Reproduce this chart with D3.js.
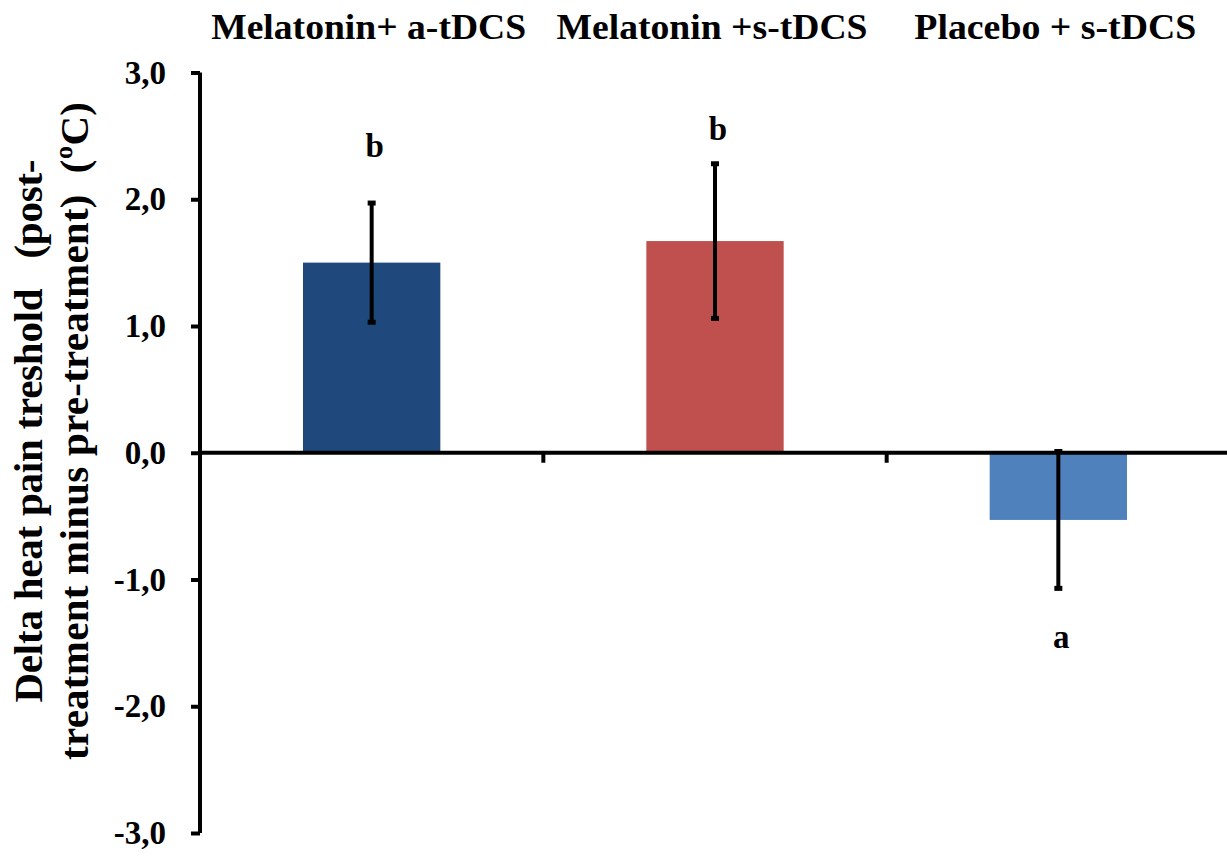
<!DOCTYPE html>
<html>
<head>
<meta charset="utf-8">
<script src="https://cdn.jsdelivr.net/npm/d3@7"></script>
<style>
  html, body { margin: 0; padding: 0; background: #fff; }
  svg { display: block; }
  text { font-family: "Liberation Serif", "Times New Roman", serif; font-weight: bold; fill: #000; }
</style>
</head>
<body>
<svg id="chart" width="1227" height="858"></svg>
<script>
// ---- data ----
const categories = ["Melatonin+ a-tDCS", "Melatonin +s-tDCS", "Placebo + s-tDCS"];
const means = [1.50, 1.67, -0.53];
const errors = [0.47, 0.61, 0.54];
const sigLetters = ["b", "b", "a"];
const sigLetterValues = [2.33, 2.47, -1.54];
const barColors = ["#1F497D", "#C0504D", "#4F81BD"];
const yTicks = [3, 2, 1, 0, -1, -2, -3];
const yTickLabels = ["3,0", "2,0", "1,0", "0,0", "-1,0", "-2,0", "-3,0"];
const yLabelLines = ["Delta heat pain treshold   (post-", "treatment minus pre-treatment)  (\u00BAC)"];

// ---- layout ----
const svg = d3.select("#chart");
const axisX = 200;
const x = d3.scaleBand().domain(categories).range([axisX, 1230]).padding(0);
const y = d3.scaleLinear().domain([-3, 3]).range([833, 72.5]);
const barW = x.bandwidth() * 0.4;
const labelWidths = [315, 311, 282];

// bars
svg.append("g").selectAll("rect").data(categories).join("rect")
  .attr("x", d => x(d) + x.bandwidth() / 2 - barW / 2)
  .attr("width", barW)
  .attr("y", (d, i) => y(Math.max(0, means[i])))
  .attr("height", (d, i) => Math.abs(y(means[i]) - y(0)))
  .attr("fill", (d, i) => barColors[i]);

// error bars
const eg = svg.append("g");
categories.forEach((c, i) => {
  const cx = x(c) + x.bandwidth() / 2;
  const top = y(means[i] + errors[i]);
  const bot = y(means[i] - errors[i]);
  eg.append("line").attr("x1", cx).attr("x2", cx).attr("y1", top).attr("y2", bot)
    .attr("stroke", "#000").attr("stroke-width", 4);
  [top, bot].forEach(v => {
    eg.append("line").attr("x1", cx - 4).attr("x2", cx + 4).attr("y1", v).attr("y2", v)
      .attr("stroke", "#000").attr("stroke-width", 5);
  });
});

// y axis
const yAxis = d3.axisLeft(y).tickValues(yTicks)
  .tickFormat((d, i) => yTickLabels[i]).tickSize(9).tickPadding(25);
const yg = svg.append("g").attr("transform", `translate(${axisX},0)`).call(yAxis);
yg.select(".domain").attr("stroke", "#000").attr("stroke-width", 4)
  .attr("d", `M0,${y(3)}V${y(-3)}`);
yg.selectAll(".tick line").attr("stroke", "#000").attr("stroke-width", 4);
yg.selectAll(".tick text")
  .style("font-family", '"Liberation Serif", "Times New Roman", serif')
  .style("font-weight", "bold").style("font-size", "33px").attr("fill", "#000");

// x axis at zero
const boundaries = categories.slice(1).map(c => x(c));
const xg = svg.append("g").attr("transform", `translate(0,${y(0)})`);
xg.append("line").attr("x1", axisX).attr("x2", 1227).attr("y1", 0).attr("y2", 0)
  .attr("stroke", "#000").attr("stroke-width", 4);
xg.selectAll(".xt").data(boundaries).join("line").attr("class", "xt")
  .attr("x1", d => d).attr("x2", d => d).attr("y1", 0).attr("y2", 10)
  .attr("stroke", "#000").attr("stroke-width", 4);

// category labels at top
svg.append("g").selectAll("text").data(categories).join("text")
  .attr("x", d => x(d) + x.bandwidth() / 2 - 3)
  .attr("y", 39)
  .attr("text-anchor", "middle")
  .attr("textLength", (d, i) => labelWidths[i])
  .attr("lengthAdjust", "spacingAndGlyphs")
  .style("font-size", "35px")
  .text(d => d);

// significance letters
svg.append("g").selectAll("text").data(categories).join("text")
  .attr("x", d => x(d) + x.bandwidth() / 2 + 3)
  .attr("y", (d, i) => y(sigLetterValues[i]))
  .attr("text-anchor", "middle")
  .style("font-size", "33px")
  .text((d, i) => sigLetters[i]);

// y label
const yl = svg.append("text")
  .attr("transform", "translate(0,431) rotate(-90)")
  .attr("text-anchor", "middle")
  .style("font-size", "41px")
  .style("white-space", "pre");
yl.append("tspan").attr("x", 0).attr("y", 42)
  .attr("textLength", 543).attr("lengthAdjust", "spacing").text(yLabelLines[0]);
yl.append("tspan").attr("x", 0).attr("y", 88)
  .attr("textLength", 658).attr("lengthAdjust", "spacing").text(yLabelLines[1]);
</script>
</body>
</html>
